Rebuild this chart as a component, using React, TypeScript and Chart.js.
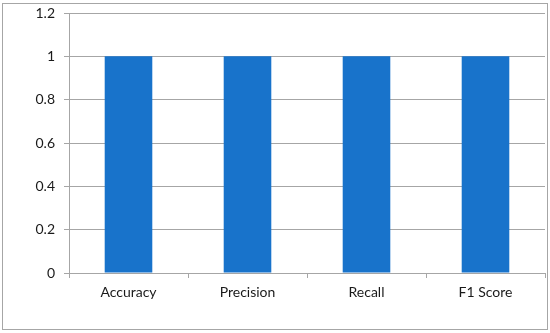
import React, { useEffect, useRef } from "react";
import { Chart, registerables } from "chart.js";

Chart.register(...registerables);

const categories = ["Accuracy", "Precision", "Recall", "F1 Score"];
const values = [1, 1, 1, 1];
const yTicks = [0, 0.2, 0.4, 0.6, 0.8, 1, 1.2];

const borderPlugin = {
  id: "outerBorder",
  beforeDraw(chart: any) {
    const ctx = chart.ctx;
    ctx.save();
    ctx.fillStyle = "#ffffff";
    ctx.fillRect(0, 0, chart.width, chart.height);
    ctx.strokeStyle = "#a6a6a6";
    ctx.lineWidth = 1;
    ctx.strokeRect(2.5, 3.5, 545, 326);
    ctx.restore();
  },
};

export default function App() {
  const ref = useRef<HTMLCanvasElement | null>(null);
  useEffect(() => {
    if (!ref.current) return;
    const chart = new Chart(ref.current, {
      type: "bar",
      data: {
        labels: categories,
        datasets: [
          {
            data: values,
            backgroundColor: "#1873cb",
            categoryPercentage: 1,
            barPercentage: 0.4,
          },
        ],
      },
      plugins: [borderPlugin],
      options: {
        animation: false,
        responsive: false,
        maintainAspectRatio: false,
        layout: { padding: { left: 0, right: 5, top: 13, bottom: 0 } },
        plugins: { legend: { display: false }, tooltip: { enabled: false } },
        scales: {
          x: {
            afterFit: (s: any) => {
              s.height = 60;
              s.paddingLeft = 0;
              s.paddingRight = 0;
            },
            grid: {
              offset: true,
              drawOnChartArea: false,
              drawTicks: true,
              tickLength: 5,
              color: "#a6a6a6",
            },
            border: { color: "#a6a6a6" },
            ticks: {
              padding: 6,
              color: "#1a1a1a",
              font: { family: "Lato", size: 14 },
            },
          },
          y: {
            min: 0,
            max: 1.2,
            afterFit: (s: any) => {
              s.width = 69;
              s.paddingTop = 0;
              s.paddingBottom = 0;
            },
            afterBuildTicks: (s: any) => {
              s.ticks = yTicks.map((v) => ({ value: v }));
            },
            grid: { color: "#a6a6a6", tickLength: 5 },
            border: { color: "#a6a6a6" },
            ticks: {
              padding: 9,
              color: "#1a1a1a",
              font: { family: "Lato", size: 14 },
              callback: (v: any) => String(Math.round(Number(v) * 10) / 10),
            },
          },
        },
      },
    });
    return () => chart.destroy();
  }, []);
  return (
    <div style={{ position: "fixed", left: 0, top: 0, width: 550, height: 333, background: "#fff" }}>
      <canvas ref={ref} width={550} height={333} style={{ display: "block" }} />
    </div>
  );
}
